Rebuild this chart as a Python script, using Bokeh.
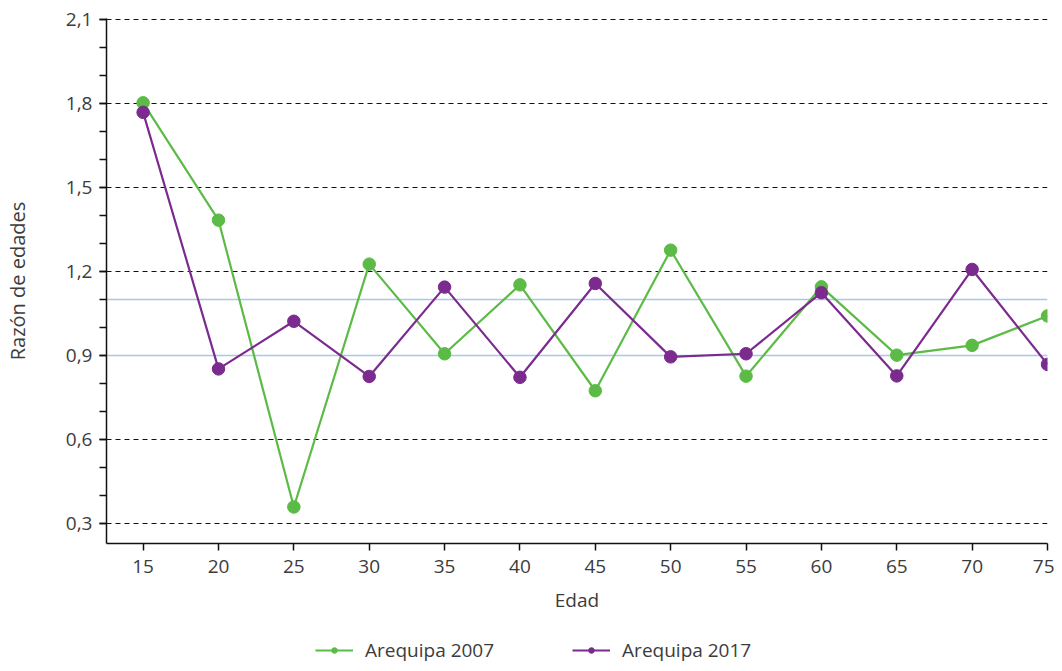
from bokeh.plotting import figure
from bokeh.layouts import column
from bokeh.models import Range1d, SingleIntervalTicker, FixedTicker, Span, Legend, LegendItem, CustomJSTickFormatter
from bokeh.embed import file_html
from bokeh.resources import INLINE

edades = [15, 20, 25, 30, 35, 40, 45, 50, 55, 60, 65, 70, 75]
arequipa_2007 = [1.802, 1.383, 0.359, 1.226, 0.906, 1.152, 0.774, 1.276, 0.826, 1.145, 0.901, 0.936, 1.041]
arequipa_2017 = [1.768, 0.852, 1.022, 0.825, 1.144, 0.822, 1.157, 0.895, 0.906, 1.124, 0.827, 1.207, 0.868]
series_names = ["Arequipa 2007", "Arequipa 2017"]
y_ticks = [0.3, 0.6, 0.9, 1.2, 1.5, 1.8, 2.1]
ref_lines = [0.9, 1.1]

GREEN = "#5cbb46"
PURPLE = "#7b2a8e"
FONT = "Open Sans"
TXT = "#3c3c3c"

p = figure(width=1054, height=630, output_backend="svg", toolbar_location=None,
           x_range=Range1d(12.57, 75.0), y_range=Range1d(0.2286, 2.103),
           min_border_left=106, min_border_top=18, min_border_right=7, min_border_bottom=87)
p.outline_line_color = None
p.background_fill_color = "white"

# grid
p.xgrid.grid_line_color = None
p.ygrid.ticker = FixedTicker(ticks=[t for t in y_ticks if abs(t - 0.9) > 1e-6])
p.ygrid.grid_line_color = "#111111"
p.ygrid.grid_line_dash = "5 4"
p.ygrid.grid_line_width = 1

for v in ref_lines:
    p.add_layout(Span(location=v, dimension="width", line_color="#a9c7ea", line_width=1.5, level="underlay"))

p.line(edades, arequipa_2007, line_color=GREEN, line_width=2.2)
p.scatter(edades, arequipa_2007, size=12.5, fill_color=GREEN, line_color=GREEN)
p.line(edades, arequipa_2017, line_color=PURPLE, line_width=2.2)
p.scatter(edades, arequipa_2017, size=12.5, fill_color=PURPLE, line_color=PURPLE)

# axes
p.xaxis.ticker = FixedTicker(ticks=edades)
p.yaxis.ticker = SingleIntervalTicker(interval=0.3, num_minor_ticks=3)
p.yaxis.formatter = CustomJSTickFormatter(code="return tick.toFixed(1).replace('.', ',');")
for ax in (p.xaxis[0], p.yaxis[0]):
    ax.axis_line_color = "#111111"
    ax.axis_line_width = 1.5
    ax.major_tick_line_color = "#111111"
    ax.major_tick_line_width = 1.5
    ax.minor_tick_line_color = "#111111"
    ax.minor_tick_line_width = 1.5
    ax.major_tick_out = 7
    ax.major_tick_in = 0
    ax.minor_tick_out = 7
    ax.minor_tick_in = 0
    ax.major_label_text_font = FONT
    ax.major_label_text_font_size = "19px"
    ax.major_label_text_color = TXT
    ax.axis_label_text_font = FONT
    ax.axis_label_text_font_size = "19px"
    ax.axis_label_text_font_style = "normal"
    ax.axis_label_text_color = TXT
p.xaxis.minor_tick_line_color = None
p.xaxis.axis_label = "Edad"
p.yaxis.axis_label = "Razón de edades"
p.yaxis.axis_label_text_font_size = "20px"
p.xaxis.major_label_standoff = 9
p.xaxis.axis_label_standoff = 11
p.yaxis.major_label_standoff = 7
p.yaxis.axis_label_standoff = 32

# legend strip below the chart (series drawn out of its view, only the legend shows)
pl = figure(width=1054, height=33, output_backend="svg", toolbar_location=None,
            x_axis_location=None, y_axis_location=None,
            x_range=Range1d(0, 1), y_range=Range1d(0, 0.1),
            min_border_left=0, min_border_right=0, min_border_top=0, min_border_bottom=0)
pl.outline_line_color = None
pl.grid.visible = False
lr1 = pl.line(edades, arequipa_2007, line_color=GREEN, line_width=2.2)
ls1 = pl.scatter(edades, arequipa_2007, size=12.5, fill_color=GREEN, line_color=GREEN)
lr2 = pl.line(edades, arequipa_2017, line_color=PURPLE, line_width=2.2)
ls2 = pl.scatter(edades, arequipa_2017, size=12.5, fill_color=PURPLE, line_color=PURPLE)

legend = Legend(items=[LegendItem(label=series_names[0], renderers=[lr1, ls1]),
                       LegendItem(label=series_names[1], renderers=[lr2, ls2])],
                orientation="horizontal", location=(209, 0),
                padding=0, margin=0, spacing=78, glyph_width=38, glyph_height=14,
                label_height=14, label_standoff=12, border_line_alpha=0, background_fill_alpha=0,
                label_text_font=FONT, label_text_font_size="19px", label_text_color=TXT)
pl.add_layout(legend, "center")

layout = column(p, pl, spacing=0)
open("out.html", "w").write(file_html(layout, INLINE))
